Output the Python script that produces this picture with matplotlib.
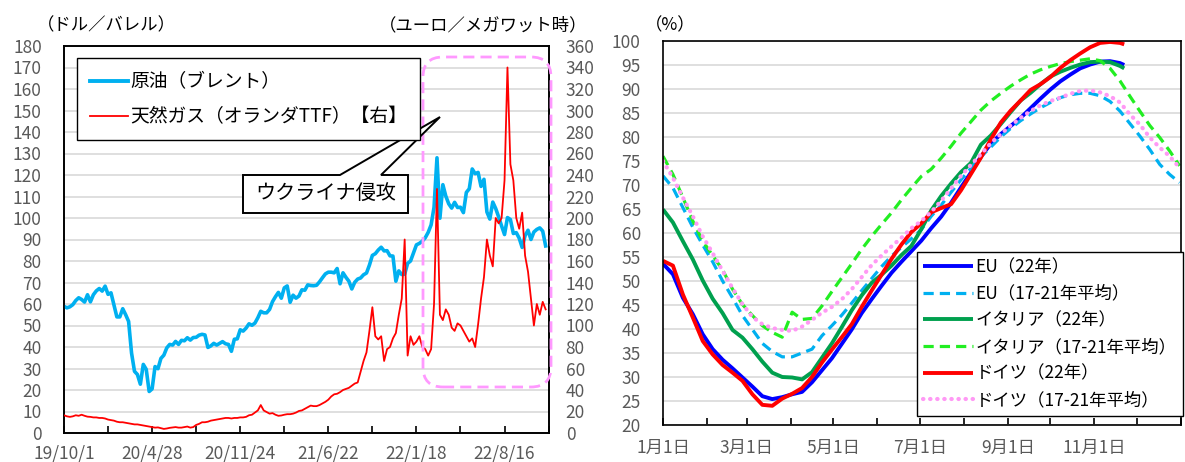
import matplotlib
matplotlib.use("Agg")
import matplotlib.pyplot as plt
from matplotlib.patches import Polygon, FancyBboxPatch
from matplotlib.lines import Line2D
import pandas as pd

plt.rcParams['font.family'] = ['Noto Sans CJK JP', 'DejaVu Sans']

# ---------------- left panel: weekly prices (Tuesdays from 2019-10-01) ----------------
brent_usd = [
    # 2019
    58.9, 58.2, 58.7, 59.7, 61.6, 62.9, 62.1, 60.9, 64.3, 61.0, 64.3, 66.1, 67.2, 66.0,
    # 2020
    68.3, 64.5, 65.2, 59.5, 54.0, 54.0, 57.8, 55.0, 51.9, 37.2, 28.7, 27.2, 22.7,
    31.9, 29.6, 19.3, 20.5, 30.9, 29.9, 34.7, 36.2, 39.6, 41.2, 40.9, 42.6, 41.2,
    43.1, 42.9, 44.3, 43.2, 44.4, 44.5, 45.5, 45.9, 45.6, 39.8, 40.5, 41.7, 40.9,
    41.7, 42.5, 41.5, 41.2, 38.0, 43.6, 43.8, 48.0, 47.4, 48.8, 50.8, 50.1, 51.1,
    # 2021
    53.6, 56.6, 55.9, 55.9, 57.5, 61.1, 63.4, 65.4, 62.7, 67.5, 68.4, 60.8, 64.1,
    62.7, 63.7, 66.6, 66.4, 68.9, 68.6, 68.5, 68.7, 70.3, 72.2, 74.0, 74.8, 74.8,
    74.5, 76.5, 69.4, 74.5, 72.4, 70.6, 67.0, 70.1, 71.6, 72.1, 73.6, 74.4, 78.1,
    82.6, 83.4, 85.1, 86.4, 84.7, 84.8, 82.4, 82.3, 70.6, 75.4, 73.7, 73.9, 78.9,
    # 2022
    80.0, 83.7, 87.5, 88.2, 89.2, 90.8, 93.3, 96.8, 105.0, 128.0, 99.9, 115.5, 110.2,
    106.6, 104.6, 107.3, 104.9, 105.0, 102.5, 111.9, 113.6, 122.8, 120.6, 121.2, 114.7,
    118.0, 102.8, 99.5, 107.4, 104.4, 100.5, 96.3, 92.3, 100.2, 99.3, 92.8, 93.2,
    90.6, 86.3, 91.8, 94.3, 90.0, 93.5, 94.7, 95.4, 93.9, 87.0,
]

ttf_eur = [
    # 2019
    16.5, 15.5, 15.0, 15.5, 16.5, 16.0, 17.0, 16.0, 15.2, 15.0, 14.5, 14.5, 14.0, 14.0,
    # 2020
    13.5, 12.5, 12.0, 11.5, 10.5, 10.0, 10.0, 9.5, 9.0, 8.5, 8.0, 8.0, 7.5,
    7.0, 6.5, 6.0, 5.5, 5.0, 5.2, 4.5, 3.8, 4.2, 4.8, 5.2, 5.5, 5.0,
    5.0, 5.5, 6.0, 5.0, 5.5, 7.5, 8.5, 10.0, 10.0, 10.5, 11.5, 12.0, 12.5,
    13.0, 13.5, 14.0, 14.0, 13.5, 14.0, 14.0, 14.5, 14.5, 15.0, 16.5, 17.0, 19.0,
    # 2021
    21.0, 26.0, 21.0, 19.5, 18.0, 18.5, 17.0, 16.0, 16.3, 17.0, 17.5, 17.5, 18.0,
    19.0, 20.5, 21.0, 22.5, 24.0, 25.5, 25.0, 25.0, 26.0, 27.5, 29.0, 31.0, 34.0,
    36.0, 36.5, 38.0, 40.0, 41.0, 42.0, 44.0, 46.0, 47.0, 57.0, 67.0, 75.0, 95.0,
    117.0, 90.0, 87.0, 90.0, 67.0, 78.0, 80.0, 88.0, 93.0, 110.0, 125.0, 180.0, 72.0,
    # 2022
    90.0, 82.0, 85.0, 90.0, 80.0, 78.0, 72.0, 78.0, 120.0, 227.0, 110.0, 105.0, 115.0,
    110.0, 98.0, 95.0, 102.0, 100.0, 95.0, 90.0, 85.0, 88.0, 80.0, 101.0, 125.0,
    145.0, 180.0, 165.0, 155.0, 200.0, 195.0, 200.0, 235.0, 340.0, 250.0, 235.0, 200.0,
    190.0, 205.0, 165.0, 150.0, 125.0, 100.0, 120.0, 110.0, 122.0, 115.0,
]

price_dates = pd.date_range("2019-10-01", periods=len(brent_usd), freq="7D")
axis_start = pd.Timestamp("2019-10-01")
tick_step_days = 105

# ---------------- right panel: gas storage filling rate (%) ----------------
days_2022 = list(range(0, 323, 7)) + [325]
days_avg = list(range(0, 365, 7))

eu_2022 = [53.6, 51.4, 46.5, 43.1, 38.9, 35.8, 33.6, 31.8, 29.9, 28.0,
           26.0, 25.4, 25.8, 26.4, 26.9, 28.9, 31.4, 33.9, 36.9, 39.9,
           43.3, 46.2, 49.0, 51.7, 54.0, 56.2, 58.4, 61.0, 63.4, 66.3,
           69.5, 72.6, 75.9, 78.6, 80.6, 82.3, 84.0, 86.0, 88.0, 89.9,
           91.6, 93.0, 94.3, 95.1, 95.7, 95.8, 95.4, 95.0]
de_2022 = [54.2, 53.2, 47.2, 42.4, 37.5, 34.7, 32.5, 30.9, 29.2, 26.4,
           24.2, 24.0, 25.5, 26.5, 27.7, 30.0, 33.0, 35.7, 38.3, 41.0,
           44.6, 48.0, 51.3, 54.6, 57.6, 60.2, 62.0, 64.3, 65.2, 66.0,
           68.9, 72.3, 75.7, 79.5, 83.0, 85.5, 87.6, 89.8, 91.0, 92.5,
           94.4, 96.0, 97.4, 98.7, 99.6, 99.8, 99.6, 99.3]
it_2022 = [64.9, 62.2, 58.3, 54.5, 50.1, 46.3, 43.3, 39.8, 38.2, 35.8,
           33.2, 30.9, 30.0, 29.9, 29.5, 31.0, 34.0, 37.0, 40.4, 43.9,
           47.0, 49.6, 51.3, 53.2, 55.4, 57.3, 60.8, 64.7, 67.7, 70.3,
           72.7, 74.6, 78.4, 80.3, 82.7, 85.2, 87.6, 89.2, 91.0, 92.6,
           93.6, 94.4, 95.1, 95.6, 95.7, 95.6, 94.8, 94.3]
eu_avg = [71.9, 69.4, 65.3, 61.2, 57.5, 54.0, 50.0, 46.5, 42.8, 39.9,
          37.0, 35.3, 34.2, 34.2, 35.0, 35.8, 38.6, 40.7, 42.9, 45.4,
          48.0, 50.5, 53.0, 55.2, 57.0, 58.8, 60.7, 63.5, 65.8, 68.5,
          71.1, 73.5, 75.9, 77.9, 80.0, 81.8, 83.4, 84.8, 86.1, 87.2,
          88.2, 88.8, 89.1, 89.1, 88.6, 87.4, 85.4, 82.8, 80.2, 77.4,
          74.3, 72.2, 70.5]
it_avg = [76.0, 72.2, 67.4, 62.5, 58.3, 55.3, 52.3, 48.3, 45.1, 42.8,
          40.7, 39.3, 38.3, 43.5, 42.0, 42.2, 44.8, 47.8, 50.7, 53.6,
          56.6, 59.3, 61.8, 64.2, 66.9, 69.4, 71.8, 73.3, 75.6, 78.1,
          80.8, 83.2, 85.6, 87.5, 89.1, 90.6, 91.9, 93.1, 94.0, 94.7,
          95.3, 95.7, 96.0, 96.3, 95.9, 94.3, 91.7, 88.5, 85.4, 82.4,
          79.9, 77.1, 74.0]
de_avg = [75.0, 71.5, 67.4, 63.5, 59.3, 55.8, 52.1, 48.5, 45.2, 42.5,
          41.0, 40.2, 39.8, 39.6, 40.5, 41.9, 43.4, 44.6, 46.2, 48.3,
          50.8, 53.3, 55.3, 57.2, 59.0, 61.0, 62.5, 64.4, 66.7, 69.3,
          71.9, 74.2, 76.4, 78.7, 80.6, 82.4, 84.0, 85.4, 86.6, 87.5,
          88.2, 89.0, 89.6, 89.7, 89.3, 88.5, 87.2, 84.7, 82.6, 79.9,
          77.8, 76.0, 73.6]

month_start_days = [0, 31, 59, 90, 120, 151, 181, 212, 243, 273, 304, 334, 365]
month_labels = ["1月1日", "", "3月1日", "", "5月1日", "", "7月1日", "", "9月1日", "", "11月1日", "", ""]

storage_series = [
    ("EU（22年）", days_2022, eu_2022, "#0000FF", "-"),
    ("EU（17-21年平均）", days_avg, eu_avg, "#00B0F0", "dash"),
    ("イタリア（22年）", days_2022, it_2022, "#00A04E", "-"),
    ("イタリア（17-21年平均）", days_avg, it_avg, "#22EE22", "dash"),
    ("ドイツ（22年）", days_2022, de_2022, "#FF0000", "-"),
    ("ドイツ（17-21年平均）", days_avg, de_avg, "#FF99F5", "dot"),
]

# ---------------- figure ----------------
W, H = 1185, 462
fig = plt.figure(figsize=(W / 100, H / 100), dpi=100)

def frac_box(x0, y0, x1, y1):
    return [x0 / W, 1 - y1 / H, (x1 - x0) / W, (y1 - y0) / H]

tick_color = "#595959"
grid_color = "#D9D9D9"

ax1 = fig.add_axes(frac_box(64, 46, 549, 433))
ax2 = ax1.twinx()

ax1.plot(price_dates, brent_usd, color="#00B0F0", lw=2.6, solid_joinstyle="round", zorder=3)
ax2.plot(price_dates, ttf_eur, color="#FF0000", lw=1.3, zorder=3)

ax1.set_ylim(0, 180)
ax1.set_yticks(range(0, 181, 10))
ax2.set_ylim(0, 360)
ax2.set_yticks(range(0, 361, 20))
ax1.yaxis.grid(True, color=grid_color, lw=1.2)
ax1.set_axisbelow(True)

x_ticks = [axis_start + pd.Timedelta(days=tick_step_days * k) for k in range(12)]
x_labels = [f"{d.year % 100}/{d.month}/{d.day}" if k % 2 == 0 else "" for k, d in enumerate(x_ticks)]
ax1.set_xlim(axis_start, axis_start + pd.Timedelta(days=1156))
ax1.set_xticks(x_ticks)
ax1.set_xticklabels(x_labels)

ax1.tick_params(axis="x", direction="in", length=5, width=1.2, color="black",
                labelsize=12.5, labelcolor=tick_color, pad=8)
ax1.tick_params(axis="y", length=0, labelsize=12.5, labelcolor=tick_color, pad=16)
ax2.tick_params(axis="y", length=0, labelsize=12.5, labelcolor=tick_color, pad=12)
for ax in (ax1, ax2):
    for s in ax.spines.values():
        s.set_color("black")
        s.set_linewidth(1.2)

fig.text(37 / W, 1 - 25 / H, "（ドル／バレル）", fontsize=12.5, color="black", ha="left", va="center")
fig.text(587 / W, 1 - 25 / H, "（ユーロ／メガワット時）", fontsize=12.5, color="black", ha="right", va="center")

leg_handles = [Line2D([], [], color="#00B0F0", lw=2.8), Line2D([], [], color="#FF0000", lw=1.3)]
leg1 = ax2.legend(leg_handles, ["原油（ブレント）", "天然ガス（オランダTTF）【右】"],
                  loc="upper left", bbox_to_anchor=(77 / W, 1 - 58 / H),
                  bbox_transform=fig.transFigure, borderaxespad=0, fontsize=13.5,
                  frameon=True, fancybox=False, framealpha=1, edgecolor="black",
                  handlelength=2.0, handletextpad=0.15, labelspacing=0.75, borderpad=0.7)
leg1.get_frame().set_linewidth(1.0)
leg1.set_zorder(10)

# period highlight (rounded dashed frame)
aw, ah = 549 - 64, 433 - 46
hl = FancyBboxPatch(((423 - 64) / aw, (433 - 387) / ah), (551 - 423) / aw, (387 - 57) / ah,
                    boxstyle=f"round,pad=0,rounding_size={20 / aw}", mutation_aspect=aw / ah,
                    transform=ax2.transAxes, fill=False, edgecolor="#FF99FF", lw=2.0,
                    linestyle=(0, (4, 2.2)), clip_on=False, zorder=6)
ax2.add_patch(hl)

# callout
def ax_pt(px, py):
    return ((px - 64) / aw, (433 - py) / ah)

callout_pts = [ax_pt(243, 213), ax_pt(408, 213), ax_pt(408, 175), ax_pt(381, 175),
               ax_pt(440, 117), ax_pt(340, 175), ax_pt(243, 175)]
callout = Polygon(callout_pts, closed=True, transform=ax2.transAxes, facecolor="white",
                  edgecolor="black", lw=1.4, zorder=8, clip_on=False, joinstyle="miter")
ax2.add_patch(callout)
cx, cy = ax_pt(325.5, 194)
ax2.text(cx, cy, "ウクライナ侵攻", transform=ax2.transAxes, fontsize=14.5, color="black",
         ha="center", va="center", zorder=9)

# ---------------- right panel ----------------
ax3 = fig.add_axes(frac_box(663, 41, 1181, 425))
for label, xs, ys, color, style in storage_series:
    if style == "-":
        ax3.plot(xs, ys, color=color, lw=2.8, label=label, solid_capstyle="butt")
    elif style == "dash":
        ax3.plot(xs, ys, color=color, lw=2.3, label=label, dashes=(3.2, 1.9))
    else:
        ax3.plot(xs, ys, color=color, lw=3.0, label=label, dashes=(0.1, 1.6),
                 dash_capstyle="round")

ax3.set_xlim(0, 365)
ax3.set_ylim(20, 100)
ax3.set_yticks(range(20, 101, 5))
ax3.set_xticks(month_start_days)
ax3.set_xticklabels(month_labels)
ax3.yaxis.grid(True, color=grid_color, lw=1.2)
ax3.set_axisbelow(True)
ax3.tick_params(axis="x", direction="in", length=5, width=1.2, color="black",
                labelsize=12.5, labelcolor=tick_color, pad=10)
ax3.tick_params(axis="y", length=0, labelsize=12.5, labelcolor=tick_color, pad=16)
for s in ax3.spines.values():
    s.set_color("black")
    s.set_linewidth(1.2)

fig.text(645 / W, 1 - 25 / H, "（%）", fontsize=12.5, color="black", ha="left", va="center")

leg2 = ax3.legend(loc="upper left", bbox_to_anchor=(917 / W, 1 - 252 / H),
                  bbox_transform=fig.transFigure, borderaxespad=0, fontsize=12.5,
                  frameon=True, fancybox=False, framealpha=1, edgecolor="black",
                  handlelength=2.9, handletextpad=0.12, labelspacing=0.5, borderpad=0.35)
leg2.get_frame().set_linewidth(1.0)

fig.savefig("out.png", dpi=100)
